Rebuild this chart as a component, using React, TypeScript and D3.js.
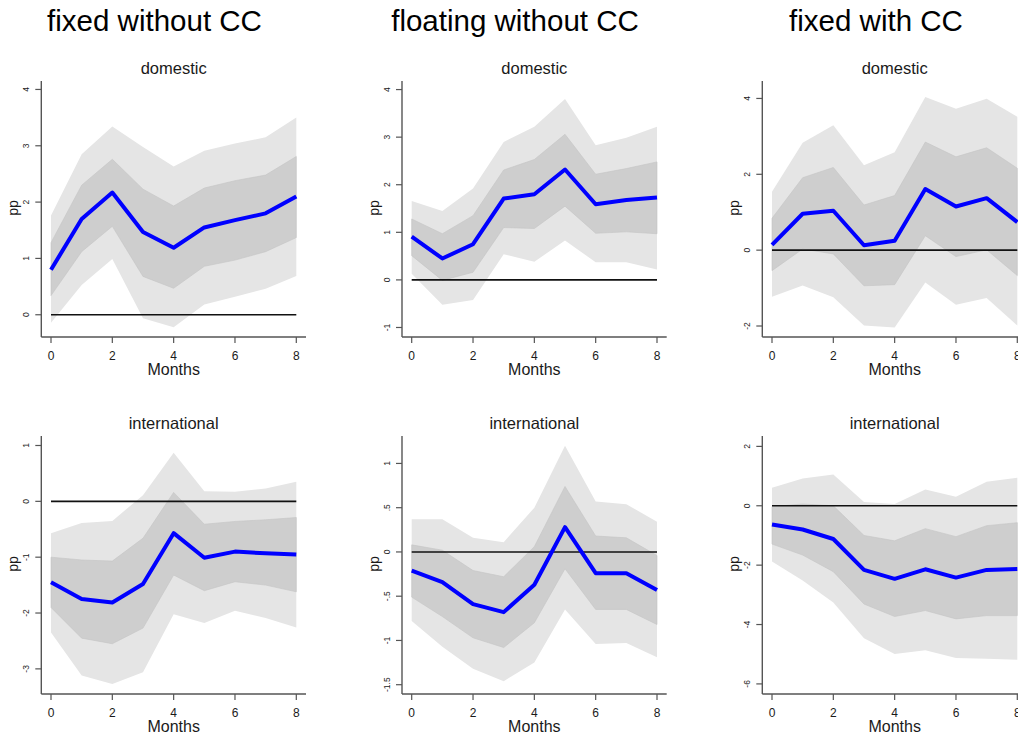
import React from 'react';
import * as d3 from 'd3';

// ---------- data ----------
const months = [0, 1, 2, 3, 4, 5, 6, 7, 8];
const xTicks = [0, 2, 4, 6, 8];
const columnTitles = ['fixed without CC', 'floating without CC', 'fixed with CC'];
const rowTitles = ['domestic', 'international'];

// fixed without CC - domestic
const fwoDomIrf = [0.80, 1.70, 2.17, 1.47, 1.19, 1.55, 1.68, 1.80, 2.10];
const fwoDomHi68 = [1.28, 2.30, 2.76, 2.23, 1.93, 2.25, 2.38, 2.48, 2.81];
const fwoDomLo68 = [0.34, 1.12, 1.57, 0.68, 0.47, 0.86, 0.97, 1.12, 1.37];
const fwoDomHi90 = [1.76, 2.85, 3.34, 2.98, 2.63, 2.91, 3.04, 3.15, 3.50];
const fwoDomLo90 = [-0.14, 0.53, 0.99, -0.06, -0.22, 0.18, 0.32, 0.46, 0.69];
const fwoDomYRange = [-0.395, 4.15];
const fwoDomYTicks = [0, 1, 2, 3, 4];
const fwoDomYLabels = ['0', '1', '2', '3', '4'];

// floating without CC - domestic
const flwoDomIrf = [0.91, 0.45, 0.75, 1.71, 1.80, 2.32, 1.59, 1.68, 1.73];
const flwoDomHi68 = [1.28, 0.97, 1.35, 2.31, 2.53, 3.06, 2.22, 2.34, 2.48];
const flwoDomLo68 = [0.51, -0.01, 0.16, 1.10, 1.08, 1.55, 0.98, 1.01, 0.97];
const flwoDomHi90 = [1.66, 1.45, 1.92, 2.90, 3.22, 3.80, 2.83, 2.99, 3.22];
const flwoDomLo90 = [0.13, -0.52, -0.42, 0.54, 0.38, 0.83, 0.37, 0.37, 0.22];
const flwoDomYRange = [-1.2, 4.18];
const flwoDomYTicks = [-1, 0, 1, 2, 3, 4];
const flwoDomYLabels = ['-1', '0', '1', '2', '3', '4'];

// fixed with CC - domestic
const fwDomIrf = [0.14, 0.96, 1.04, 0.13, 0.25, 1.61, 1.15, 1.37, 0.74];
const fwDomHi68 = [0.84, 1.91, 2.18, 1.19, 1.44, 2.85, 2.46, 2.70, 2.16];
const fwDomLo68 = [-0.54, 0.03, -0.10, -0.94, -0.91, 0.38, -0.17, 0.01, -0.67];
const fwDomHi90 = [1.54, 2.83, 3.29, 2.24, 2.58, 4.04, 3.73, 3.99, 3.52];
const fwDomLo90 = [-1.23, -0.93, -1.24, -1.99, -2.04, -0.85, -1.44, -1.26, -1.99];
const fwDomYRange = [-2.29, 4.46];
const fwDomYTicks = [-2, 0, 2, 4];
const fwDomYLabels = ['-2', '0', '2', '4'];

// fixed without CC - international
const fwoIntIrf = [-1.45, -1.75, -1.81, -1.48, -0.57, -1.01, -0.90, -0.93, -0.95];
const fwoIntHi68 = [-1.00, -1.05, -1.07, -0.66, 0.16, -0.41, -0.36, -0.33, -0.29];
const fwoIntLo68 = [-1.90, -2.45, -2.55, -2.27, -1.32, -1.60, -1.44, -1.50, -1.62];
const fwoIntHi90 = [-0.57, -0.39, -0.35, 0.11, 0.87, 0.18, 0.17, 0.23, 0.35];
const fwoIntLo90 = [-2.35, -3.12, -3.27, -3.06, -2.02, -2.18, -1.96, -2.09, -2.26];
const fwoIntYRange = [-3.45, 1.17];
const fwoIntYTicks = [-3, -2, -1, 0, 1];
const fwoIntYLabels = ['-3', '-2', '-1', '0', '1'];

// floating without CC - international
const flwoIntIrf = [-0.21, -0.34, -0.59, -0.68, -0.37, 0.28, -0.24, -0.24, -0.43];
const flwoIntHi68 = [0.08, 0.02, -0.21, -0.28, 0.06, 0.74, 0.18, 0.16, -0.04];
const flwoIntLo68 = [-0.51, -0.73, -0.97, -1.08, -0.80, -0.19, -0.65, -0.65, -0.82];
const flwoIntHi90 = [0.37, 0.37, 0.16, 0.11, 0.50, 1.20, 0.57, 0.54, 0.34];
const flwoIntLo90 = [-0.78, -1.07, -1.32, -1.46, -1.25, -0.65, -1.04, -1.03, -1.19];
const flwoIntYRange = [-1.605, 1.31];
const flwoIntYTicks = [-1.5, -1, -0.5, 0, 0.5, 1];
const flwoIntYLabels = ['-1.5', '-1', '-.5', '0', '.5', '1'];

// fixed with CC - international
const fwIntIrf = [-0.63, -0.80, -1.12, -2.16, -2.46, -2.14, -2.42, -2.16, -2.13];
const fwIntHi68 = [-0.03, 0.06, 0.00, -1.00, -1.18, -0.77, -1.04, -0.67, -0.57];
const fwIntLo68 = [-1.29, -1.66, -2.22, -3.31, -3.73, -3.53, -3.81, -3.70, -3.70];
const fwIntHi90 = [0.61, 0.92, 1.05, 0.13, 0.06, 0.55, 0.30, 0.81, 0.94];
const fwIntLo90 = [-1.88, -2.52, -3.26, -4.46, -4.99, -4.87, -5.13, -5.15, -5.19];
const fwIntYRange = [-6.34, 2.35];
const fwIntYTicks = [-6, -4, -2, 0, 2];
const fwIntYLabels = ['-6', '-4', '-2', '0', '2'];

type Panel = {
  col: number; row: number;
  irf: number[]; hi68: number[]; lo68: number[]; hi90: number[]; lo90: number[];
  yRange: number[]; yTicks: number[]; yLabels: string[];
};

const panels: Panel[] = [
  { col: 0, row: 0, irf: fwoDomIrf, hi68: fwoDomHi68, lo68: fwoDomLo68, hi90: fwoDomHi90, lo90: fwoDomLo90, yRange: fwoDomYRange, yTicks: fwoDomYTicks, yLabels: fwoDomYLabels },
  { col: 1, row: 0, irf: flwoDomIrf, hi68: flwoDomHi68, lo68: flwoDomLo68, hi90: flwoDomHi90, lo90: flwoDomLo90, yRange: flwoDomYRange, yTicks: flwoDomYTicks, yLabels: flwoDomYLabels },
  { col: 2, row: 0, irf: fwDomIrf, hi68: fwDomHi68, lo68: fwDomLo68, hi90: fwDomHi90, lo90: fwDomLo90, yRange: fwDomYRange, yTicks: fwDomYTicks, yLabels: fwDomYLabels },
  { col: 0, row: 1, irf: fwoIntIrf, hi68: fwoIntHi68, lo68: fwoIntLo68, hi90: fwoIntHi90, lo90: fwoIntLo90, yRange: fwoIntYRange, yTicks: fwoIntYTicks, yLabels: fwoIntYLabels },
  { col: 1, row: 1, irf: flwoIntIrf, hi68: flwoIntHi68, lo68: flwoIntLo68, hi90: flwoIntHi90, lo90: flwoIntLo90, yRange: flwoIntYRange, yTicks: flwoIntYTicks, yLabels: flwoIntYLabels },
  { col: 2, row: 1, irf: fwIntIrf, hi68: fwIntHi68, lo68: fwIntLo68, hi90: fwIntHi90, lo90: fwIntLo90, yRange: fwIntYRange, yTicks: fwIntYTicks, yLabels: fwIntYLabels },
];

// ---------- layout ----------
const W = 1018;
const H = 736;
const colX0 = [51, 411.7, 772];
const xSpan = 245.3;
const axisPad = 9.7;
const rowTop = [81, 436];
const rowBottom = [337, 694];
const titleCenters = [154.5, 515, 876];
const FONT = '"Liberation Sans", Arial, Helvetica, sans-serif';
const AXIS = '#555555';
const TEXT = '#1a1a1a';
const OUTER = '#e5e5e5';
const INNER = '#cecece';

function PanelView({ p }: { p: Panel }) {
  const x0 = colX0[p.col];
  const x = d3.scaleLinear().domain([0, 8]).range([x0, x0 + xSpan]);
  const top = rowTop[p.row];
  const bottom = rowBottom[p.row];
  const y = d3.scaleLinear().domain(p.yRange).range([bottom, top]);
  const axisX = x0 - axisPad;
  const axisRight = x0 + xSpan + axisPad;

  const band = (lo: number[], hi: number[]) =>
    d3.area<number>().x((_, i) => x(months[i])).y0((_, i) => y(lo[i])).y1((_, i) => y(hi[i]))(months) || '';
  const line = d3.line<number>().x((_, i) => x(months[i])).y((d) => y(d))(p.irf) || '';
  const midX = x0 + xSpan / 2;

  return (
    <g>
      <text x={midX} y={top - 7} textAnchor="middle" fontSize={16.5} fill={TEXT} fontFamily={FONT}>
        {rowTitles[p.row]}
      </text>
      <path d={band(p.lo90, p.hi90)} fill={OUTER} />
      <path d={band(p.lo68, p.hi68)} fill={INNER} stroke="#c4c4c4" strokeWidth={0.6} />
      <line x1={x(0)} x2={x(8)} y1={y(0)} y2={y(0)} stroke="#111" strokeWidth={1.6} />
      <path d={line} fill="none" stroke="#0000ff" strokeWidth={4} strokeLinejoin="round" />
      {/* y axis */}
      <line x1={axisX} x2={axisX} y1={top} y2={bottom} stroke={AXIS} strokeWidth={1.4} />
      {p.yTicks.map((t, i) => (
        <g key={'y' + i}>
          <line x1={axisX - 6} x2={axisX} y1={y(t)} y2={y(t)} stroke={AXIS} strokeWidth={1.2} />
          <text transform={`translate(${axisX - 12.5},${y(t)}) rotate(-90)`} textAnchor="middle" fontSize={8.5} fill={TEXT} fontFamily={FONT}>
            {p.yLabels[i]}
          </text>
        </g>
      ))}
      <text transform={`translate(${axisX - 23},${(top + bottom) / 2 - 1}) rotate(-90)`} textAnchor="middle" fontSize={14} fill={TEXT} fontFamily={FONT}>
        pp
      </text>
      {/* x axis */}
      <line x1={axisX} x2={axisRight} y1={bottom} y2={bottom} stroke={AXIS} strokeWidth={1.4} />
      {xTicks.map((t) => (
        <g key={'x' + t}>
          <line x1={x(t)} x2={x(t)} y1={bottom} y2={bottom + 6} stroke={AXIS} strokeWidth={1.2} />
          <text x={x(t)} y={bottom + 22.5} textAnchor="middle" fontSize={12} fill={TEXT} fontFamily={FONT}>
            {t}
          </text>
        </g>
      ))}
      <text x={midX} y={bottom + 38} textAnchor="middle" fontSize={16} fill={TEXT} fontFamily={FONT}>
        Months
      </text>
    </g>
  );
}

export default function App() {
  return (
    <svg width={W} height={H} viewBox={`0 0 ${W} ${H}`} style={{ position: 'absolute', left: 0, top: 0, background: '#fff' }}>
      <rect x={0} y={0} width={W} height={H} fill="#fff" />
      {columnTitles.map((t, i) => (
        <text key={t} x={titleCenters[i]} y={30.5} textAnchor="middle" fontSize={29.5} fill="#000" fontFamily={FONT}>
          {t}
        </text>
      ))}
      {panels.map((p, i) => (
        <PanelView key={i} p={p} />
      ))}
    </svg>
  );
}
